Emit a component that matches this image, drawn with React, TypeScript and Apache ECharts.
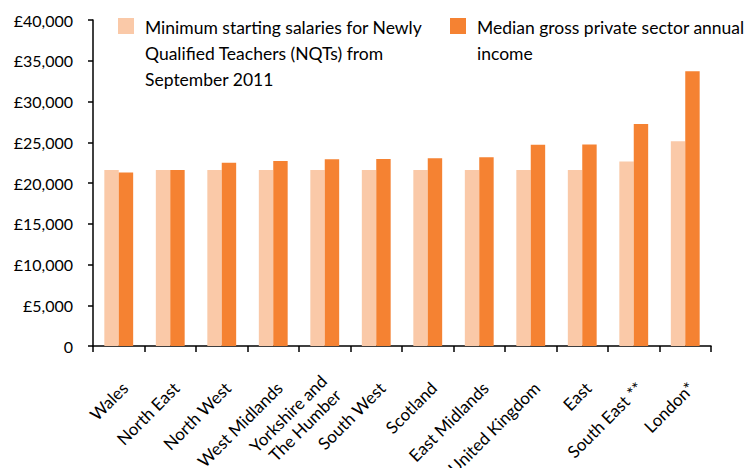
import React, { useEffect, useRef } from "react";
import * as echarts from "echarts";

const categories = [
  "Wales",
  "North East",
  "North West",
  "West Midlands",
  "Yorkshire and\nThe Humber",
  "South West",
  "Scotland",
  "East Midlands",
  "United Kingdom",
  "East",
  "South East **",
  "London*",
];

const nqtSalaries = [
  21588, 21588, 21588, 21588, 21588, 21588, 21588, 21588, 21588, 21588, 22626, 25117,
];

const medianIncome = [
  21300, 21600, 22500, 22700, 22900, 22950, 23050, 23170, 24680, 24720, 27250, 33700,
];

const seriesNames = [
  "Minimum starting salaries for Newly\nQualified Teachers (NQTs) from\nSeptember 2011",
  "Median gross private sector annual\nincome",
];

const colors = ["#FAC9A8", "#F58232"];

const FONT = "Lato, 'Open Sans', sans-serif";
const LABEL_DX = 6;

export default function App() {
  const ref = useRef<HTMLDivElement>(null);

  useEffect(() => {
    document.body.style.margin = "0";
    if (!ref.current) return;
    const chart = echarts.init(ref.current, null, { renderer: "svg" });
    chart.setOption({
      animation: false,
      backgroundColor: "#ffffff",
      textStyle: { fontFamily: FONT },
      grid: [
        {
          left: 93,
          top: 20,
          right: 35,
          bottom: 122,
          containLabel: false,
          outerBoundsMode: "none",
        },
        {
          left: 93 + LABEL_DX,
          top: 20,
          right: 35 - LABEL_DX,
          bottom: 122,
          containLabel: false,
          outerBoundsMode: "none",
        },
      ],
      xAxis: [
        {
          type: "category",
          gridIndex: 0,
          data: categories,
          axisLine: { lineStyle: { color: "#000", width: 1.5 } },
          axisTick: {
            show: true,
            interval: 0,
            length: 6,
            lineStyle: { color: "#000", width: 1.5 },
          },
          axisLabel: { show: false, interval: 0 },
        },
        {
          type: "category",
          gridIndex: 1,
          data: categories,
          axisLine: { show: false },
          axisTick: { show: false },
          axisLabel: {
            rotate: 45,
            interval: 0,
            margin: 39,
            color: "#000",
            fontSize: 17,
            fontFamily: FONT,
            lineHeight: 20,
          },
        },
      ],
      yAxis: [
        {
          type: "value",
          gridIndex: 0,
          min: 0,
          max: 40000,
          interval: 5000,
          splitLine: { show: false },
          axisLine: { show: true, lineStyle: { color: "#000", width: 1.5 } },
          axisTick: { show: true, length: 5, lineStyle: { color: "#000", width: 1.5 } },
          axisLabel: {
            margin: 20,
            color: "#000",
            fontSize: 16,
            fontFamily: FONT,
            formatter: (v: number) =>
              v === 0 ? "0" : "£" + v.toLocaleString("en-GB"),
          },
        },
        {
          type: "value",
          gridIndex: 1,
          min: 0,
          max: 1,
          show: false,
        },
      ],
      series: [
        {
          name: seriesNames[0],
          type: "bar",
          data: nqtSalaries,
          itemStyle: { color: colors[0] },
          barGap: "0%",
          barCategoryGap: "44%",
        },
        {
          name: seriesNames[1],
          type: "bar",
          data: medianIncome,
          itemStyle: { color: colors[1] },
          barGap: "0%",
          barCategoryGap: "44%",
        },
      ],
      graphic: [
        { type: "rect", left: 118, top: 18, shape: { width: 16, height: 16 }, style: { fill: colors[0] } },
        {
          type: "text",
          left: 145,
          top: 14,
          style: {
            text: seriesNames[0],
            font: `17.5px ${FONT}`,
            fill: "#000",
            lineHeight: 26,
          },
        },
        { type: "rect", left: 450, top: 18, shape: { width: 16, height: 16 }, style: { fill: colors[1] } },
        {
          type: "text",
          left: 477,
          top: 14,
          style: {
            text: seriesNames[1],
            font: `17.5px ${FONT}`,
            fill: "#000",
            lineHeight: 26,
          },
        },
      ],
    });
    return () => chart.dispose();
  }, []);

  return <div ref={ref} style={{ width: 746, height: 468 }} />;
}
